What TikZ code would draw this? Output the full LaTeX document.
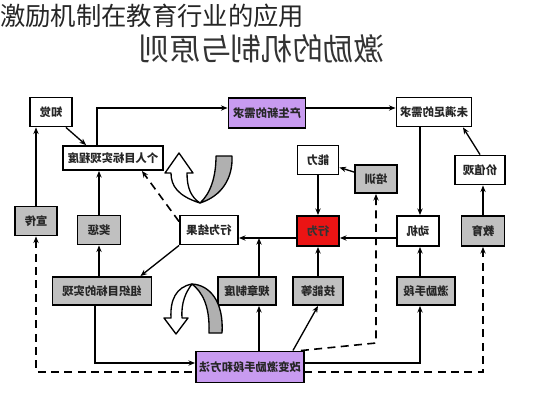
\documentclass[tikz,border=0pt]{standalone}
\usepackage{fontspec}
\newfontfamily\cjk{Noto Sans CJK SC}
\usetikzlibrary{arrows.meta,calc}
\definecolor{boxgray}{RGB}{192,192,192}
\definecolor{ribgray}{RGB}{176,176,176}
\definecolor{boxpurple}{RGB}{200,155,240}
\definecolor{boxred}{RGB}{235,20,20}
\newcommand\mir[1]{\reflectbox{#1}}
\begin{document}
\begin{tikzpicture}[x=0.75pt,y=-0.75pt,
  bx/.style={draw=black, line width=1.4pt, inner sep=0pt, text=black!85, font=\cjk\bfseries\fontsize{8.5}{10}\selectfont},
  wbox/.style={bx, fill=white},
  gbox/.style={bx, fill=boxgray},
  pbox/.style={bx, fill=boxpurple},
  rbox/.style={bx, fill=boxred},
  sz/.style 2 args={minimum width=#1*0.75pt, minimum height=#2*0.75pt},
  arr/.style={line width=1pt, -{Stealth[length=5pt,width=4pt]}},
  darr/.style={line width=1.2pt, dash pattern=on 6pt off 4pt, -{Stealth[length=5pt,width=4pt]}},
  ddarr/.style={line width=1.2pt, dash pattern=on 6pt off 4pt, {Stealth[length=5pt,width=4pt]}-{Stealth[length=5pt,width=4pt]}},
  rib/.style={draw=black, line width=1pt, line join=round},
]
\useasboundingbox (0,0) rectangle (533,400);
\fill[white] (0,0) rectangle (533,400);

% titles
\node[anchor=north west, inner sep=0pt, font=\cjk\fontsize{19}{22}\selectfont, text=black!85] (title) at (0,4) {激励机制在教育行业的应用};
\node[inner sep=0pt, font=\cjk\fontsize{23}{26}\selectfont, text=black!80] (sub) at (262,49) {\mir{激励的机制与原则}};

% nodes
\node[wbox,sz={42}{29}] (zhijue) at (51,112) {\mir{知觉}};
\node[wbox,sz={100}{24}] (geren) at (113,158) {\mir{个人目标实现程度}};
\node[pbox,sz={77}{30}] (chansheng) at (267,113) {\mir{产生新的需求}};
\node[wbox,sz={75}{29}] (weimanzu) at (434,112) {\mir{未满足的需求}};
\node[wbox,sz={41}{29}] (nengli) at (318,160) {\mir{能力}};
\node[gbox,sz={42}{28}] (peixun) at (376,179) {\mir{培训}};
\node[wbox,sz={50}{29}] (jiazhi) at (480,170) {\mir{价值观}};
\node[rbox,sz={42}{30}, text=black!80] (xingwei) at (318,231) {\mir{行为}};
\node[wbox,sz={42}{30}] (dongji) at (418,231) {\mir{动机}};
\node[gbox,sz={43}{30}] (jiaoyu) at (483,231) {\mir{教育}};
\node[gbox,sz={42}{29}] (xuanchuan) at (36,221) {\mir{宣传}};
\node[gbox,sz={43}{29}] (jiangcheng) at (99,230) {\mir{奖惩}};
\node[wbox,sz={58}{29}] (jieguo) at (209,230) {\mir{行为结果}};
\node[gbox,sz={99}{28}] (zuzhi) at (102,291) {\mir{组织目标的实现}};
\node[gbox,sz={58}{28}] (guizhang) at (247,291) {\mir{规章制度}};
\node[gbox,sz={50}{28}] (jineng) at (318,291) {\mir{技能等}};
\node[gbox,sz={58}{28}] (jili) at (426,291) {\mir{激励手段}};

% helper coordinates
\coordinate (c1) at (97,108);
\coordinate (c2) at (0,238);
\coordinate (c3) at (259,0);
\coordinate (c4) at (95,363);
\coordinate (c5) at (420,0);
\coordinate (c6) at (376,343);
\coordinate (c7) at (0,372);

% big dashed loop (behind bottom box)
\draw[ddarr] (xuanchuan.south) -- (xuanchuan.south |- c7) -- (jiaoyu.south |- c7) -- (jiaoyu.south);

\node[pbox,sz={108}{31}] (gaibian) at (250,367) {\mir{改变激励手段和方法}};

% connectors
\draw[arr] (geren.north -| c1) -- (c1) -- (chansheng.west |- c1);
\draw[arr] (chansheng.east |- c1) -- (weimanzu.west |- c1);
\draw[arr] (weimanzu.south -| c5) -- (dongji.north -| c5);
\draw[arr] (jiazhi.north) -- ($(weimanzu.south)+(29,0)$);
\draw[arr] (jiaoyu.north) -- (jiaoyu.north |- jiazhi.south);
\draw[arr] ($(peixun.north west)+(0,8)$) -- ($(nengli.south east)+(0,-8)$);
\draw[arr] (nengli.south) -- (xingwei.north);
\draw[arr] (dongji.west |- c2) -- (xingwei.east |- c2);
\draw[arr] (xingwei.west |- c2) -- (jieguo.east |- c2);
\draw[arr] (guizhang.north -| c3) -- (c2 -| c3);
\draw[arr] (jineng.north) -- (xingwei.south);
\draw[arr] (jili.north -| c5) -- (dongji.south -| c5);
\draw[arr] (jieguo.south west) -- ($(zuzhi.north east)+(-12,0)$);
\draw[arr] (zuzhi.north -| jiangcheng) -- (jiangcheng.south);
\draw[arr] (jiangcheng.north) -- (jiangcheng.north |- geren.south);
\draw[arr] (xuanchuan.north) -- (xuanchuan.north |- zhijue.south);
\draw[arr] ($(zhijue.south east)+(-7,0)$) -- ($(geren.north west)+(24,0)$);
\draw[darr] ($(jieguo.north west)+(0,7)$) -- ($(geren.south east)+(-22,0)$);
\draw[arr] (zuzhi.south -| c4) -- (c4) -- (gaibian.west |- c4);
\draw[arr] (gaibian.north -| c3) -- (guizhang.south -| c3);
\draw[arr] ($(gaibian.north east)+(-12,0)$) -- (jineng.south);
\draw[arr] (gaibian.east |- c4) -| (jili.south -| c5);
\draw[darr] ($(gaibian.north east)+(-4,0)$) -- (c6) -- (peixun.south);

% upper twisted U arrow
\draw[rib, fill=ribgray] (200,203) .. controls (222,196) and (233,178) .. (232,156) -- (216,156) .. controls (216,178) and (210,194) .. (200,203) -- cycle;
\draw[rib, fill=white] (200,203) .. controls (178,196) and (171,186) .. (171,173) -- (165,173) -- (179,153) -- (193,173) -- (187,173) .. controls (187,188) and (191,197) .. (200,203) -- cycle;

% lower twisted inverted-U arrow
\draw[rib, fill=ribgray] (222,333) .. controls (224,302) and (210,285) .. (192,284) .. controls (202,292) and (210,305) .. (209,333) -- cycle;
\draw[rib, fill=white] (192,284) .. controls (176,287) and (170,300) .. (171,318) -- (164,318) -- (176,334) -- (188,318) -- (182,318) .. controls (181,302) and (186,292) .. (192,284) -- cycle;
\end{tikzpicture}
\end{document}
